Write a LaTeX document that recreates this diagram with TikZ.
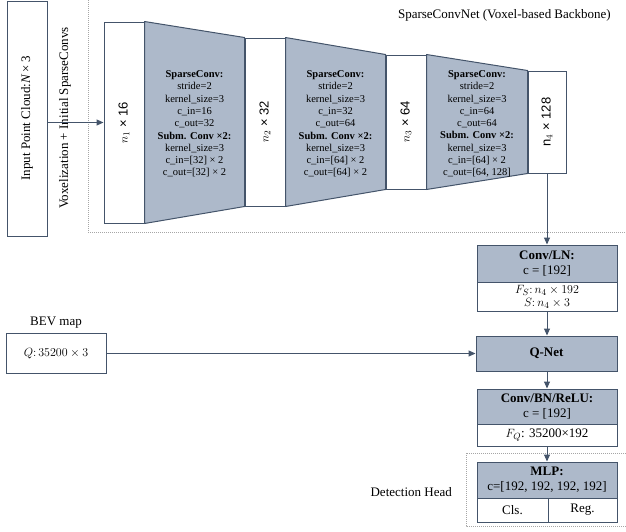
\documentclass[tikz,border=0pt]{standalone}
\usepackage{fontspec}
\setmainfont{Liberation Serif}
\newfontfamily\sansfont{Liberation Sans}
\usetikzlibrary{arrows.meta}
\definecolor{edge}{HTML}{44546A}
\definecolor{layerfill}{HTML}{ADB9CA}
\definecolor{frame}{HTML}{A6A6A6}

\begin{document}
\begin{tikzpicture}[x=1pt,y=-1pt,
  box/.style={draw=edge, line width=1pt, inner sep=0pt, align=center,
    font=\fontsize{13}{15}\selectfont},
  featbox/.style={box, fill=white},
  opbox/.style={box, fill=layerfill},
  dimtext/.style={rotate=90, inner sep=0pt, font=\sansfont\fontsize{13}{15}\selectfont},
  convtext/.style={align=center, inner sep=0pt, font=\fontsize{10.5}{12.3}\selectfont},
  plain/.style={inner sep=0pt, font=\fontsize{13}{15}\selectfont},
  trap/.style={draw=edge, fill=layerfill, line width=1pt, line join=round},
  flow/.style={draw=edge, line width=1pt, -{Triangle[length=7pt,width=6pt]}},
  region/.style={draw=frame, line width=0.8pt, dash pattern=on 1pt off 1pt},
]
\useasboundingbox (0,0) rectangle (626,531);

% ---------- input and backbone frame ----------
\node[featbox, minimum width=40pt, minimum height=235pt] (inp) at (27,118.5) {};
\node[plain, rotate=90] (inptext) at (inp) {Input Point Cloud:\textit{N}\,×\,3};
\node[plain, rotate=90] (voxtext) at (65,118) {Voxelization + Initial SparseConvs};

\draw[region] (88,0) -- (88,232) -- (626,232);
\node[plain, anchor=east] (bbtitle) at (611,15) {SparseConvNet (Voxel-based Backbone)};

% ---------- feature blocks ----------
\node[featbox, minimum width=40pt, minimum height=201pt] (b1) at (124,122.5) {};
\node[featbox, minimum width=40pt, minimum height=168pt] (b2) at (265,122) {};
\node[featbox, minimum width=40pt, minimum height=134pt] (b3) at (406,122) {};
\node[featbox, minimum width=38pt, minimum height=102pt] (b4) at (547,122) {};

% ---------- sparse conv stages ----------
\path[trap] (b1.north east) -- (b2.north west) -- (b2.south west) -- (b1.south east) -- cycle;
\path[trap] (b2.north east) -- (b3.north west) -- (b3.south west) -- (b2.south east) -- cycle;
\path[trap] (b3.north east) -- (b4.north west) -- (b4.south west) -- (b3.south east) -- cycle;

\node[dimtext] (b1t) at (b1) {$n_1$ × 16};
\node[dimtext] (b2t) at (b2) {$n_2$ × 32};
\node[dimtext] (b3t) at (b3) {$n_3$ × 64};
\node[dimtext] (b4t) at (b4) {n$_4$ × 128};

\node[convtext] (s1) at (194.5,124) {\textbf{SparseConv:}\\ stride=2\\ kernel\_size=3\\ c\_in=16\\ c\_out=32\\
  \textbf{Subm. Conv ×2:}\\ kernel\_size=3\\ c\_in=[32] × 2\\ c\_out=[32] × 2};
\node[convtext] (s2) at (335.5,124) {\textbf{SparseConv:}\\ stride=2\\ kernel\_size=3\\ c\_in=32\\ c\_out=64\\
  \textbf{Subm. Conv ×2:}\\ kernel\_size=3\\ c\_in=[64] × 2\\ c\_out=[64] × 2};
\node[convtext] (s3) at (477,124) {\textbf{SparseConv:}\\ stride=2\\ kernel\_size=3\\ c\_in=64\\ c\_out=64\\
  \textbf{Subm. Conv ×2:}\\ kernel\_size=3\\ c\_in=[64] × 2\\ c\_out=[64, 128]};

\draw[flow] (inp.east |- b1.west) -- (b1.west);

% ---------- Conv/LN ----------
\node[opbox, minimum width=140pt, minimum height=37pt] (convln) at (547,263.5)
  {\textbf{Conv/LN:}\\ c = [192]};
\node[featbox, minimum width=140pt, minimum height=29pt] (convlnout) at (547,296.5)
  {$F_S\colon n_4 \times 192$\\[-2pt] $S\colon n_4 \times 3$};

% ---------- BEV map and Q-Net ----------
\node[featbox, minimum width=100pt, minimum height=40pt] (bev) at (56,353.5)
  {$Q\colon 35200 \times 3$};
\node[plain, anchor=south] (bevlabel) at (56,328) {BEV map};

\node[opbox, minimum width=141pt, minimum height=35pt] (qnet) at (546.5,353.5) {\textbf{Q-Net}};

% ---------- Conv/BN/ReLU ----------
\node[opbox, minimum width=140pt, minimum height=35pt] (cbr) at (547,406.5)
  {\textbf{Conv/BN/ReLU:}\\ c = [192]};
\node[featbox, minimum width=140pt, minimum height=22pt] (cbrout) at (547,435)
  {$F_Q$: 35200×192};

% ---------- detection head ----------
\draw[region] (626,453) -- (466,453) -- (466,526) -- (626,526);
\node[plain, anchor=east] (dhlabel) at (452,492) {Detection Head};

\node[opbox, minimum width=140pt, minimum height=36pt] (mlp) at (547,480)
  {\textbf{MLP:}\\ c=[192, 192, 192, 192]};
\node[featbox, minimum width=71pt, minimum height=24pt] (cls) at (512.5,510) {Cls.};
\node[featbox, minimum width=69pt, minimum height=24pt] (reg) at (582.5,510) {Reg.};

% ---------- connectors ----------
\draw[flow] (b4.south) -- (convln.north);
\draw[flow] (convlnout.south) -- (qnet.north -| convlnout.south);
\draw[flow] (bev.east) -- (qnet.west);
\draw[flow] (qnet.south -| cbr.north) -- (cbr.north);
\draw[flow] (cbrout.south) -- (mlp.north);
\end{tikzpicture}
\end{document}
